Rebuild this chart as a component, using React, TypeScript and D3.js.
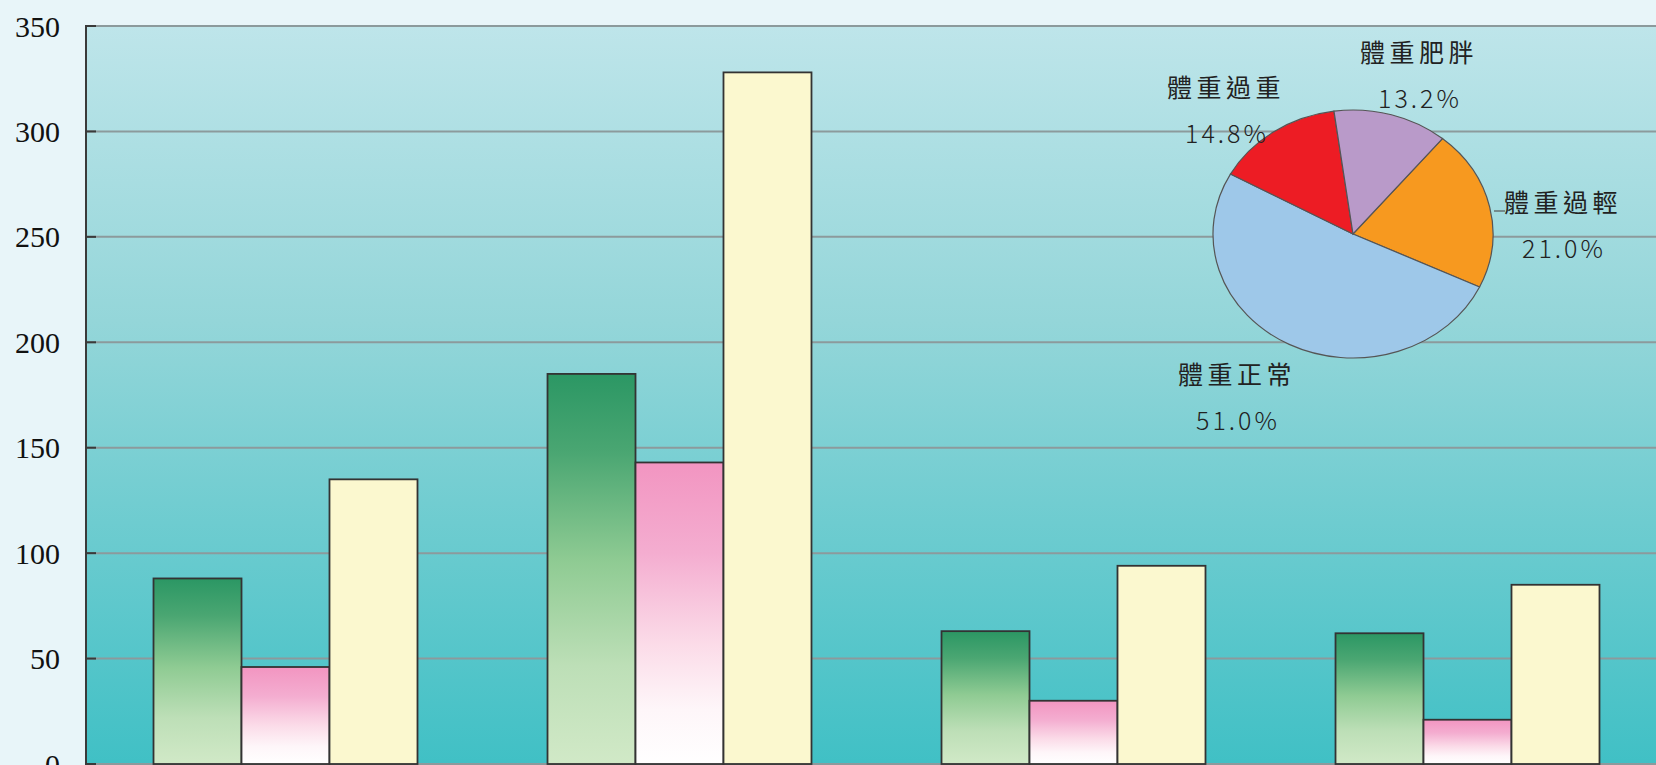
import React, { useEffect } from 'react';
import * as d3 from 'd3';

// bar chart: three series per group (green, pink, total in yellow)
const categories = ['第一組', '第二組', '第三組', '第四組'];
const seriesNames = ['男', '女', '合計'];
const greenValues = [88, 185, 63, 62];
const pinkValues = [46, 143, 30, 21];
const yellowValues = [135, 328, 94, 85];
const yTicks = [0, 50, 100, 150, 200, 250, 300, 350];

// pie inset
const pieLabels = ['體重過輕', '體重正常', '體重過重', '體重肥胖'];
const pieValues = [21.0, 51.0, 14.8, 13.2];

const W = 1656;
const H = 765;
const margin = { left: 86, top: 26, bottom: 1 };

const pieColors = ['#f7991f', '#9ec8e9', '#ed1c24', '#b99ac9'];
// label centres, by slice (layout only)
const pieLabelPos: [number, number][] = [
  [1563, 201],
  [1237, 373],
  [1226, 86],
  [1419, 51],
];

export default function App() {
  useEffect(() => {
    document.body.style.margin = '0';
    document.body.style.overflow = 'hidden';
  }, []);

  const x0 = d3
    .scaleBand<string>()
    .domain(categories)
    .range([margin.left + 2.5, W + 8.5])
    .paddingInner(0.33)
    .paddingOuter(0.165);
  const x1 = d3.scaleBand<string>().domain(seriesNames).range([0, x0.bandwidth()]);
  const y = d3.scaleLinear().domain([0, 350]).range([H - margin.bottom, margin.top]);

  const series = [greenValues, pinkValues, yellowValues];
  const fills = ['url(#gGreen)', 'url(#gPink)', '#fbf8cf'];

  // pie
  const cx = 1353;
  const cy = 234;
  const rx = 140;
  const ry = 124;
  const start = 0.693;
  const pie = d3
    .pie<number>()
    .sort(null)
    .startAngle(start)
    .endAngle(start + Math.PI * 2);
  const arcs = pie(pieValues);
  const arc = d3.arc<d3.PieArcDatum<number>>().innerRadius(0).outerRadius(rx);

  return (
    <svg width={W} height={H} style={{ position: 'absolute', left: 0, top: 0, display: 'block' }}>
      <defs>
        <linearGradient id="plotBg" x1="0" y1="0" x2="0" y2="1">
          <stop offset="0%" stopColor="#bee5ea" />
          <stop offset="40%" stopColor="#94d6d9" />
          <stop offset="100%" stopColor="#40c0c5" />
        </linearGradient>
        <linearGradient id="gGreen" x1="0" y1="0" x2="0" y2="1">
          <stop offset="0%" stopColor="#2b9764" />
          <stop offset="20%" stopColor="#4aa672" />
          <stop offset="48%" stopColor="#8fcb93" />
          <stop offset="75%" stopColor="#bddfb7" />
          <stop offset="100%" stopColor="#d1e9c7" />
        </linearGradient>
        <linearGradient id="gPink" x1="0" y1="0" x2="0" y2="1">
          <stop offset="0%" stopColor="#f295c1" />
          <stop offset="30%" stopColor="#f4add0" />
          <stop offset="60%" stopColor="#fbdbe8" />
          <stop offset="82%" stopColor="#fef6f9" />
          <stop offset="100%" stopColor="#ffffff" />
        </linearGradient>
      </defs>

      <rect x={0} y={0} width={W} height={H} fill="#e8f5f9" />
      <rect
        x={margin.left}
        y={margin.top}
        width={W - margin.left}
        height={H - margin.top}
        fill="url(#plotBg)"
      />

      {/* gridlines + ticks */}
      {yTicks.map((t) => (
        <g key={t}>
          <line x1={margin.left} x2={W} y1={y(t)} y2={y(t)} stroke="#8c9a9c" strokeWidth={2} />
          <line x1={margin.left} x2={margin.left + 10} y1={y(t)} y2={y(t)} stroke="#3a3a3a" strokeWidth={2} />
          <text
            x={60}
            y={y(t)}
            textAnchor="end"
            dominantBaseline="central"
            fontFamily="Liberation Serif, serif"
            fontSize={30}
            fill="#111"
          >
            {t}
          </text>
        </g>
      ))}
      <line x1={margin.left} x2={margin.left} y1={margin.top - 1} y2={H} stroke="#3a3a3a" strokeWidth={2} />

      {/* bars */}
      {categories.map((c, i) => (
        <g key={c} transform={`translate(${x0(c)},0)`}>
          {series.map((vals, s) => (
            <rect
              key={s}
              x={x1(seriesNames[s])}
              y={y(vals[i])}
              width={x1.bandwidth()}
              height={y(0) - y(vals[i])}
              fill={fills[s]}
              stroke="#333"
              strokeWidth={1.8}
            />
          ))}
        </g>
      ))}

      {/* pie inset */}
      <g transform={`translate(${cx},${cy}) scale(1,${ry / rx})`}>
        {arcs.map((a, i) => (
          <path
            key={i}
            d={arc(a) || ''}
            fill={pieColors[i]}
            stroke="#555"
            strokeWidth={1.2}
            vectorEffect="non-scaling-stroke"
          />
        ))}
      </g>
      <line x1={1494} x2={1505} y1={211} y2={211} stroke="#555" strokeWidth={1.2} />
      {arcs.map((a, i) => (
        <g key={i} fontFamily="Noto Sans CJK TC, sans-serif" fill="#222" textAnchor="middle">
          <text
            x={pieLabelPos[i][0]}
            y={pieLabelPos[i][1]}
            dominantBaseline="central"
            fontSize={25}
            letterSpacing={4.5}
          >
            {pieLabels[i]}
          </text>
          <text
            x={pieLabelPos[i][0] + 1}
            y={pieLabelPos[i][1] + 46}
            dominantBaseline="central"
            fontSize={25}
            letterSpacing={3}
            fontWeight={300}
          >
            {`${a.data.toFixed(1)}%`}
          </text>
        </g>
      ))}
    </svg>
  );
}
